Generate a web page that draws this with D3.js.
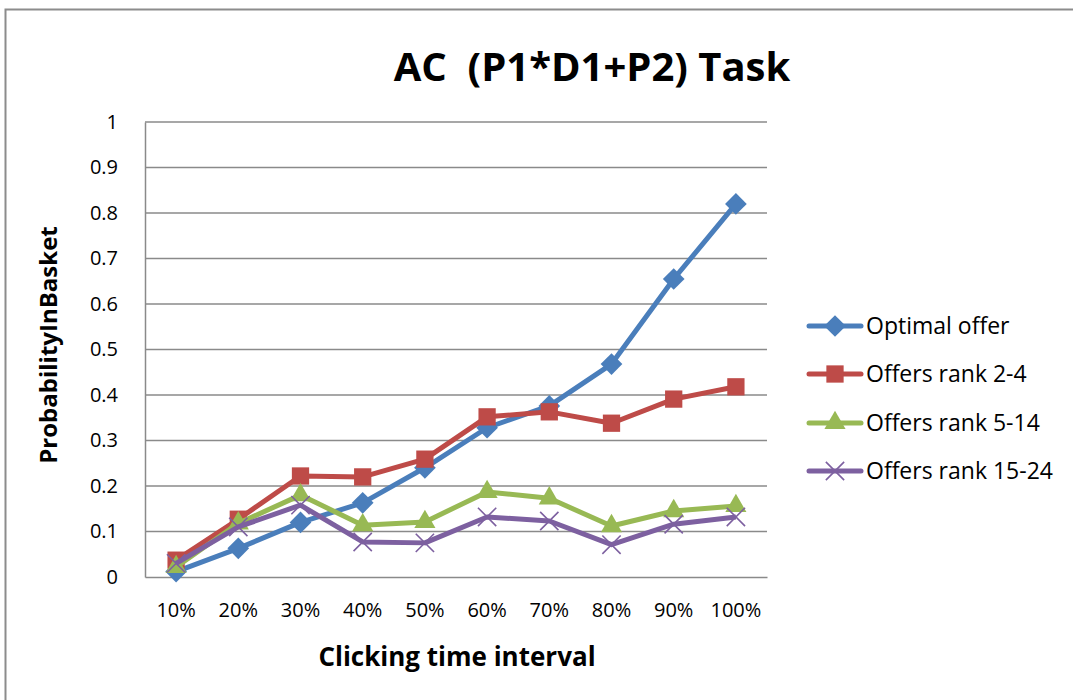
<!DOCTYPE html>
<html>
<head>
<meta charset="utf-8">
<script src="https://cdn.jsdelivr.net/npm/d3@7"></script>
<style>
  html, body { margin: 0; padding: 0; background: #fff; }
  svg { display: block; }
  text { font-family: "Open Sans", "Noto Sans", sans-serif; fill: #000; }
</style>
</head>
<body>
<svg id="chart" width="1073" height="700"></svg>
<script>
// Category labels for the clicking time interval
const categories = ["10%", "20%", "30%", "40%", "50%", "60%", "70%", "80%", "90%", "100%"];

// Series values (probability of being in the basket)
const optimalOffer = [0.012, 0.063, 0.120, 0.163, 0.240, 0.328, 0.376, 0.468, 0.655, 0.820];
const rank2to4     = [0.037, 0.127, 0.222, 0.220, 0.259, 0.352, 0.363, 0.338, 0.391, 0.418];
const rank5to14    = [0.022, 0.118, 0.180, 0.114, 0.121, 0.187, 0.173, 0.112, 0.145, 0.156];
const rank15to24   = [0.030, 0.110, 0.158, 0.077, 0.075, 0.132, 0.123, 0.071, 0.116, 0.132];

const yTicks = [0, 0.1, 0.2, 0.3, 0.4, 0.5, 0.6, 0.7, 0.8, 0.9, 1];

const seriesNames = ["Optimal offer", "Offers rank 2-4", "Offers rank 5-14", "Offers rank 15-24"];
const seriesValues = [optimalOffer, rank2to4, rank5to14, rank15to24];
const seriesColors = ["#4A7EBB", "#BE4B48", "#98B954", "#7D60A0"];
const seriesSymbols = [d3.symbolDiamond2, d3.symbolSquare2, d3.symbolTriangle2, d3.symbolX];
const symbolSizes = [300, 380, 320, 220];

const series = seriesNames.map((name, i) => ({
  name, values: seriesValues[i], color: seriesColors[i],
  symbol: seriesSymbols[i], size: symbolSizes[i]
}));

const svg = d3.select("#chart");

// Outer chart frame
svg.append("rect")
  .attr("x", 5.5).attr("y", 9.5).attr("width", 1100).attr("height", 720)
  .attr("fill", "none").attr("stroke", "#8c8c8c").attr("stroke-width", 2);

const plot = { left: 145, right: 767, top: 122, bottom: 577 };

const x = d3.scaleBand().domain(categories).range([plot.left, plot.right]);
const y = d3.scaleLinear().domain([0, 1]).range([plot.bottom, plot.top]);

// Horizontal gridlines
svg.append("g")
  .selectAll("line").data(yTicks.filter(d => d > 0)).join("line")
  .attr("x1", plot.left).attr("x2", plot.right)
  .attr("y1", d => y(d)).attr("y2", d => y(d))
  .attr("stroke", "#8a8a8a").attr("stroke-width", 1.5);

// Y axis
const yAxis = svg.append("g")
  .attr("transform", `translate(${plot.left},0)`)
  .call(d3.axisLeft(y).tickValues(yTicks).tickFormat(d3.format("~g")).tickSize(0).tickPadding(27));
yAxis.select(".domain").attr("stroke", "#8a8a8a").attr("stroke-width", 1.5);
yAxis.selectAll("text").style("font-size", "20px").style("font-family", "'Open Sans', sans-serif").attr("fill", "#000");

// X axis
const xAxis = svg.append("g")
  .attr("transform", `translate(0,${plot.bottom})`)
  .call(d3.axisBottom(x).tickSize(0).tickPadding(26));
xAxis.select(".domain").attr("stroke", "#8a8a8a").attr("stroke-width", 1.5);
xAxis.selectAll("text").style("font-size", "20px").style("font-family", "'Open Sans', sans-serif").attr("fill", "#000");

// Series lines and markers
const line = d3.line()
  .x((d, i) => x(categories[i]) + x.bandwidth() / 2)
  .y(d => y(d));

function drawMarker(sel, s) {
  const isX = s.symbol === d3.symbolX;
  sel.attr("d", d3.symbol(s.symbol, s.size))
    .attr("fill", isX ? "none" : s.color)
    .attr("stroke", s.color)
    .attr("stroke-width", isX ? 1.6 : 0);
}

series.forEach(s => {
  const g = svg.append("g");
  g.append("path")
    .datum(s.values)
    .attr("d", line)
    .attr("fill", "none")
    .attr("stroke", s.color)
    .attr("stroke-width", 5)
    .attr("stroke-linejoin", "round");
  g.selectAll("path.marker").data(s.values).join("path")
    .attr("class", "marker")
    .attr("transform", (d, i) => `translate(${x(categories[i]) + x.bandwidth() / 2},${y(d)})`)
    .call(drawMarker, s);
});

// Title
svg.append("text")
  .attr("x", 592).attr("y", 81)
  .attr("text-anchor", "middle")
  .attr("xml:space", "preserve")
  .style("font-size", "40px").style("font-weight", "bold")
  .text("AC  (P1*D1+P2) Task");

// Axis titles
svg.append("text")
  .attr("x", 457).attr("y", 666)
  .attr("text-anchor", "middle")
  .style("font-size", "26px").style("font-weight", "bold")
  .text("Clicking time interval");

svg.append("text")
  .attr("transform", "translate(57,345) rotate(-90)")
  .attr("text-anchor", "middle")
  .style("font-size", "24px").style("font-weight", "bold")
  .text("ProbabilityInBasket");

// Legend
const legend = svg.append("g");
const legendRows = [326, 374, 423, 471];
series.forEach((s, i) => {
  const ly = legendRows[i];
  legend.append("line")
    .attr("x1", 809).attr("x2", 861).attr("y1", ly).attr("y2", ly)
    .attr("stroke", s.color).attr("stroke-width", 5).attr("stroke-linecap", "round");
  legend.append("path")
    .attr("transform", `translate(835,${ly})`)
    .call(drawMarker, s);
  legend.append("text")
    .attr("x", 866).attr("y", ly).attr("dy", "0.35em")
    .style("font-size", "23px")
    .text(s.name);
});
</script>
</body>
</html>
